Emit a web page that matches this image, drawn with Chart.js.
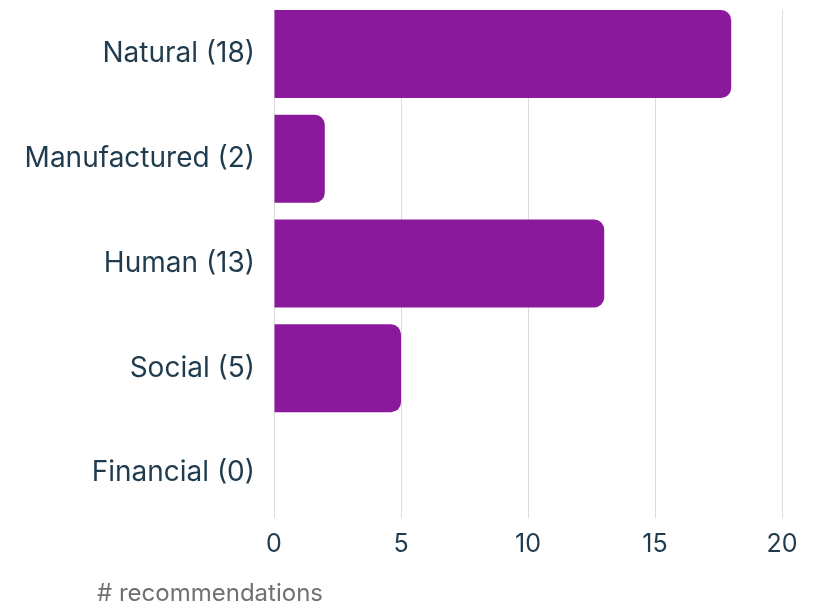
<!DOCTYPE html>
<html>
<head>
<meta charset="utf-8">
<script src="https://cdn.jsdelivr.net/npm/chart.js@4"></script>
<style>
  html, body { margin: 0; padding: 0; background: #ffffff; }
  #wrap { width: 825px; height: 603px; position: relative; }
</style>
</head>
<body>
<div id="wrap"><canvas id="c" width="825" height="603"></canvas></div>
<script>
const categories = ["Natural (18)", "Manufactured (2)", "Human (13)", "Social (5)", "Financial (0)"];
const values = [18, 2, 13, 5, 0];
const xTicks = [0, 5, 10, 15, 20];
const axisTitle = "# recommendations";

const textColor = "#1f3b4d";
const barColor = "#8a1a9b";

const titlePlugin = {
  id: "bottomTitle",
  afterDraw(chart) {
    const ctx = chart.ctx;
    ctx.save();
    ctx.font = "24px Inter";
    ctx.fillStyle = "#707070";
    ctx.textAlign = "left";
    ctx.textBaseline = "alphabetic";
    ctx.fillText(axisTitle, 97, 601);
    ctx.restore();
  }
};

new Chart(document.getElementById("c"), {
  type: "bar",
  data: {
    datasets: [{
      data: values.map((v, i) => ({ x: v, y: i })),
      backgroundColor: barColor,
      borderRadius: 10,
      borderSkipped: "start",
      categoryPercentage: 1,
      barPercentage: 0.84
    }]
  },
  options: {
    indexAxis: "y",
    responsive: false,
    animation: false,
    layout: { padding: { left: 0, right: 43, top: 10, bottom: 44 } },
    plugins: { legend: { display: false }, tooltip: { enabled: false } },
    scales: {
      x: {
        type: "linear",
        min: xTicks[0],
        max: xTicks[xTicks.length - 1],
        afterBuildTicks(scale) { scale.ticks = xTicks.map(v => ({ value: v })); },
        afterFit(scale) { scale.height = 41; scale.paddingLeft = 0; },
        grid: { color: "#dcdcdc", lineWidth: 1, drawTicks: false },
        border: { display: false },
        ticks: { color: textColor, font: { family: "Inter", size: 25 }, padding: 11 }
      },
      y: {
        type: "linear",
        offset: false,
        reverse: true,
        min: -0.42,
        max: 4.43,
        afterBuildTicks(scale) { scale.ticks = categories.map((c, i) => ({ value: i })); },
        afterFit(scale) { scale.paddingTop = 0; scale.paddingBottom = 0; scale.width = 274; },
        grid: { display: false, offset: false },
        border: { display: false },
        ticks: {
          color: textColor,
          font: { family: "Inter", size: 28 },
          padding: 11,
          autoSkip: false,
          callback: (v) => categories[v] ?? ""
        }
      }
    }
  },
  plugins: [titlePlugin]
});
</script>
</body>
</html>
